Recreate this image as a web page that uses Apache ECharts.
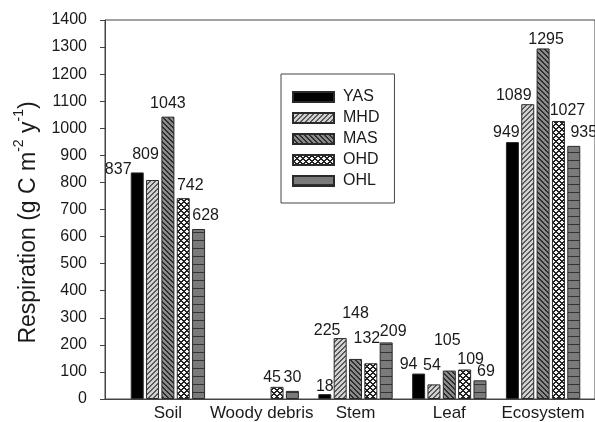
<!DOCTYPE html>
<html>
<head>
<meta charset="utf-8">
<script src="https://cdn.jsdelivr.net/npm/echarts@6/dist/echarts.min.js"></script>
<style>
html,body{margin:0;padding:0;background:#fff;}
#chart{width:595px;height:422px;}
</style>
</head>
<body>
<div id="chart"></div>
<script>
// ---- data ----
const categories = ['Soil', 'Woody debris', 'Stem', 'Leaf', 'Ecosystem'];
const seriesNames = ['YAS', 'MHD', 'MAS', 'OHD', 'OHL'];
const YAS = [837, null, 18, 94, 949];
const MHD = [809, null, 225, 54, 1089];
const MAS = [1043, null, 148, 105, 1295];
const OHD = [742, 45, 132, 109, 1027];
const OHL = [628, 30, 209, 69, 935];
const yTicks = {min: 0, max: 1400, interval: 100};

// ---- layout: label offsets (px) per series / category ----
const labelOffsets = {
  YAS: [[-19, 10], [0, 0], [0, 5], [-10, 4], [-6, 4]],
  MHD: [[-7, -12], [0, 0], [-13, 6], [-2, -6], [-14, 4]],
  MAS: [[0, 0], [0, 0], [0, -32], [-2, -17], [3, 4]],
  OHD: [[7, 0], [-5, 4], [-4, -12], [6, 3], [9, 3]],
  OHL: [[7, 0], [0, 0], [7, 2], [6, 4], [10, 0]]
};

function makePattern(bg, fg, w, h, test) {
  const c = document.createElement('canvas');
  c.width = w; c.height = h;
  const ctx = c.getContext('2d');
  ctx.fillStyle = bg; ctx.fillRect(0, 0, w, h);
  ctx.fillStyle = fg;
  for (let x = 0; x < w; x++) for (let y = 0; y < h; y++) if (test(x, y)) ctx.fillRect(x, y, 1, 1);
  return {image: c, repeat: 'repeat'};
}

const fills = {
  YAS: '#000000',
  MHD: makePattern('#d2d2d2', '#5a5a5a', 5, 5, (x, y) => (x + y) % 5 < 2),
  MAS: makePattern('#8a8a8a', '#2e2e2e', 5, 5, (x, y) => (x - y + 5) % 5 < 2),
  OHD: makePattern('#f6f6f6', '#222222', 6, 6, (x, y) => (x + y) % 6 < 2 || (x - y + 6) % 6 < 2),
  OHL: makePattern('#7a7a7a', '#333333', 1, 8, (x, y) => y % 8 === 0)
};

const values = {YAS, MHD, MAS, OHD, OHL};
const FONT = '"Liberation Sans", Arial, sans-serif';

const series = seriesNames.map(name => ({
  name: name,
  type: 'bar',
  xAxisIndex: 1,
  yAxisIndex: 1,
  barWidth: 13,
  barGap: '18%',
  itemStyle: {color: fills[name], borderColor: '#2a2a2a', borderWidth: 1},
  label: {show: true, position: 'top', distance: 5, fontSize: 16, color: '#1a1a1a', fontFamily: FONT},
  data: values[name].map((v, i) => v === null ? '-' : ({value: v, label: {offset: labelOffsets[name][i]}}))
}));

const chart = echarts.init(document.getElementById('chart'), null, {renderer: 'canvas'});
chart.setOption({
  animation: false,
  backgroundColor: '#ffffff',
  textStyle: {fontFamily: FONT},
  grid: [
    {left: 105, top: 20, right: -30, bottom: 23, show: true, borderColor: '#444', borderWidth: 1, backgroundColor: 'transparent'},
    {left: 121, top: 20, right: 5, bottom: 23}
  ],
  legend: {
    orient: 'vertical',
    left: 281,
    top: 74,
    padding: [15, 15, 14, 11],
    borderColor: '#444',
    borderWidth: 1,
    itemWidth: 41,
    itemHeight: 10,
    itemGap: 5,
    icon: 'rect',
    textStyle: {fontSize: 16, color: '#1a1a1a', lineHeight: 16, fontFamily: FONT, padding: [0, 0, 0, 4]},
    data: seriesNames
  },
  xAxis: [
    {gridIndex: 0, type: 'value', min: 0, max: 1, axisLine: {show: true, onZero: false, lineStyle: {color: '#444'}},
     axisTick: {show: false}, axisLabel: {show: false}, splitLine: {show: false}},
    {gridIndex: 1, type: 'category', data: categories, axisLine: {show: false}, axisTick: {show: false},
     axisLabel: {fontSize: 17, color: '#1a1a1a', margin: 6, interval: 0, fontFamily: FONT}}
  ],
  yAxis: [
    {gridIndex: 0, type: 'value', min: yTicks.min, max: yTicks.max, interval: yTicks.interval,
     axisLine: {show: true, lineStyle: {color: '#444'}},
     axisTick: {show: true, length: 5, lineStyle: {color: '#444'}},
     axisLabel: {fontSize: 16, color: '#1a1a1a', margin: 18, fontFamily: FONT, formatter: v => String(v)},
     splitLine: {show: false},
     name: '{n|Respiration (g C m}{s|-2}{n| y}{s|-1}{n|)}',
     nameLocation: 'middle',
     nameRotate: 90,
     nameGap: 60,
     nameTextStyle: {
       padding: [0, 26, 0, 0],
       rich: {
         n: {fontSize: 23, color: '#1a1a1a', fontFamily: FONT, lineHeight: 28, verticalAlign: 'bottom'},
         s: {fontSize: 14, color: '#1a1a1a', fontFamily: FONT, lineHeight: 28, verticalAlign: 'top'}
       }
     }},
    {gridIndex: 1, type: 'value', min: yTicks.min, max: yTicks.max, interval: yTicks.interval, show: false}
  ],
  series: series
});
</script>
</body>
</html>
